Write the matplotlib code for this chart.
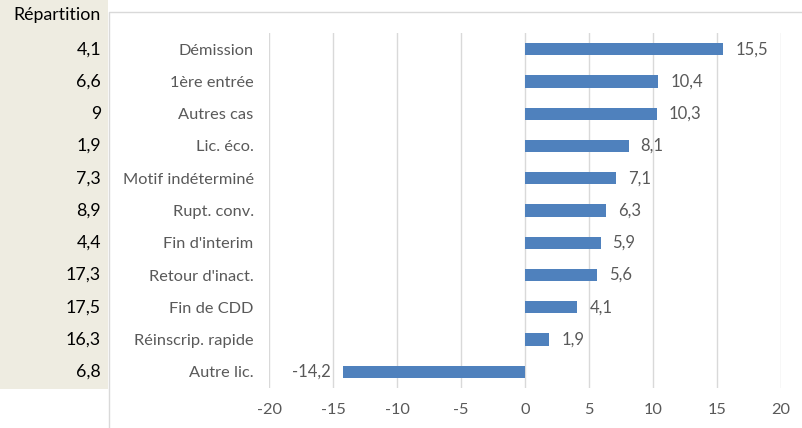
import matplotlib
matplotlib.use("Agg")
import matplotlib.pyplot as plt
from matplotlib.patches import Rectangle
from matplotlib.transforms import blended_transform_factory

plt.rcParams['font.family'] = ['Lato', 'DejaVu Sans']

categories = ["Démission", "1ère entrée", "Autres cas", "Lic. éco.", "Motif indéterminé",
              "Rupt. conv.", "Fin d'interim", "Retour d'inact.", "Fin de CDD",
              "Réinscrip. rapide", "Autre lic."]
values = [15.5, 10.4, 10.3, 8.1, 7.1, 6.3, 5.9, 5.6, 4.1, 1.9, -14.2]
repartition = [4.1, 6.6, 9, 1.9, 7.3, 8.9, 4.4, 17.3, 17.5, 16.3, 6.8]
xticks = [-20, -15, -10, -5, 0, 5, 10, 15, 20]


def fr(v):
    s = f"{v:g}"
    return s.replace(".", ",")


W, H = 802, 428
fig = plt.figure(figsize=(W / 100, H / 100), dpi=100)
fig.patch.set_facecolor("white")

# beige panel
fig.add_artist(Rectangle((0, 1 - 389 / H), 108 / W, 389 / H, transform=fig.transFigure,
                         facecolor="#EEECE1", edgecolor="none", zorder=0))
# chart border
fig.add_artist(Rectangle((109 / W, -0.1), 1.0, 1.1 - 12 / H, transform=fig.transFigure,
                         facecolor="white", edgecolor="#D9D9D9", linewidth=1.0, zorder=0))

ax = fig.add_axes([269 / W, 1 - 388 / H, 512 / W, 355 / H])
ax.set_facecolor("none")
y = list(range(len(categories)))
ax.barh(y, values, height=0.38, color="#4F81BD", zorder=3)
ax.set_xlim(-20, 20)
ax.set_ylim(len(categories) - 0.5, -0.5)
ax.set_xticks(xticks)
ax.set_xticklabels([str(t) for t in xticks])
ax.set_yticks(y)
ax.set_yticklabels(categories)
ax.tick_params(axis="both", length=0, colors="#595959", labelsize=11.8)
ax.tick_params(axis="x", pad=11)
ax.tick_params(axis="y", pad=11)
for s in ax.spines.values():
    s.set_visible(False)
ax.grid(axis="x", color="#D9D9D9", linewidth=1.0, zorder=0)
ax.set_axisbelow(True)

for yi, v in zip(y, values):
    if v >= 0:
        ax.annotate(fr(v), (v, yi), xytext=(12, 0), textcoords="offset pixels",
                    ha="left", va="center", fontsize=12, color="#595959")
    else:
        ax.annotate(fr(v), (v, yi), xytext=(-12, 0), textcoords="offset pixels",
                    ha="right", va="center", fontsize=12, color="#595959")

tr = blended_transform_factory(fig.transFigure, ax.transData)
for yi, r in zip(y, repartition):
    ax.text(101 / W, yi, fr(r), transform=tr, ha="right", va="center",
            fontsize=12.8, color="black")
fig.text(101 / W, 1 - 15 / H, "Répartition", ha="right", va="center",
         fontsize=12.8, color="black")

fig.savefig("out.png", dpi=100)
